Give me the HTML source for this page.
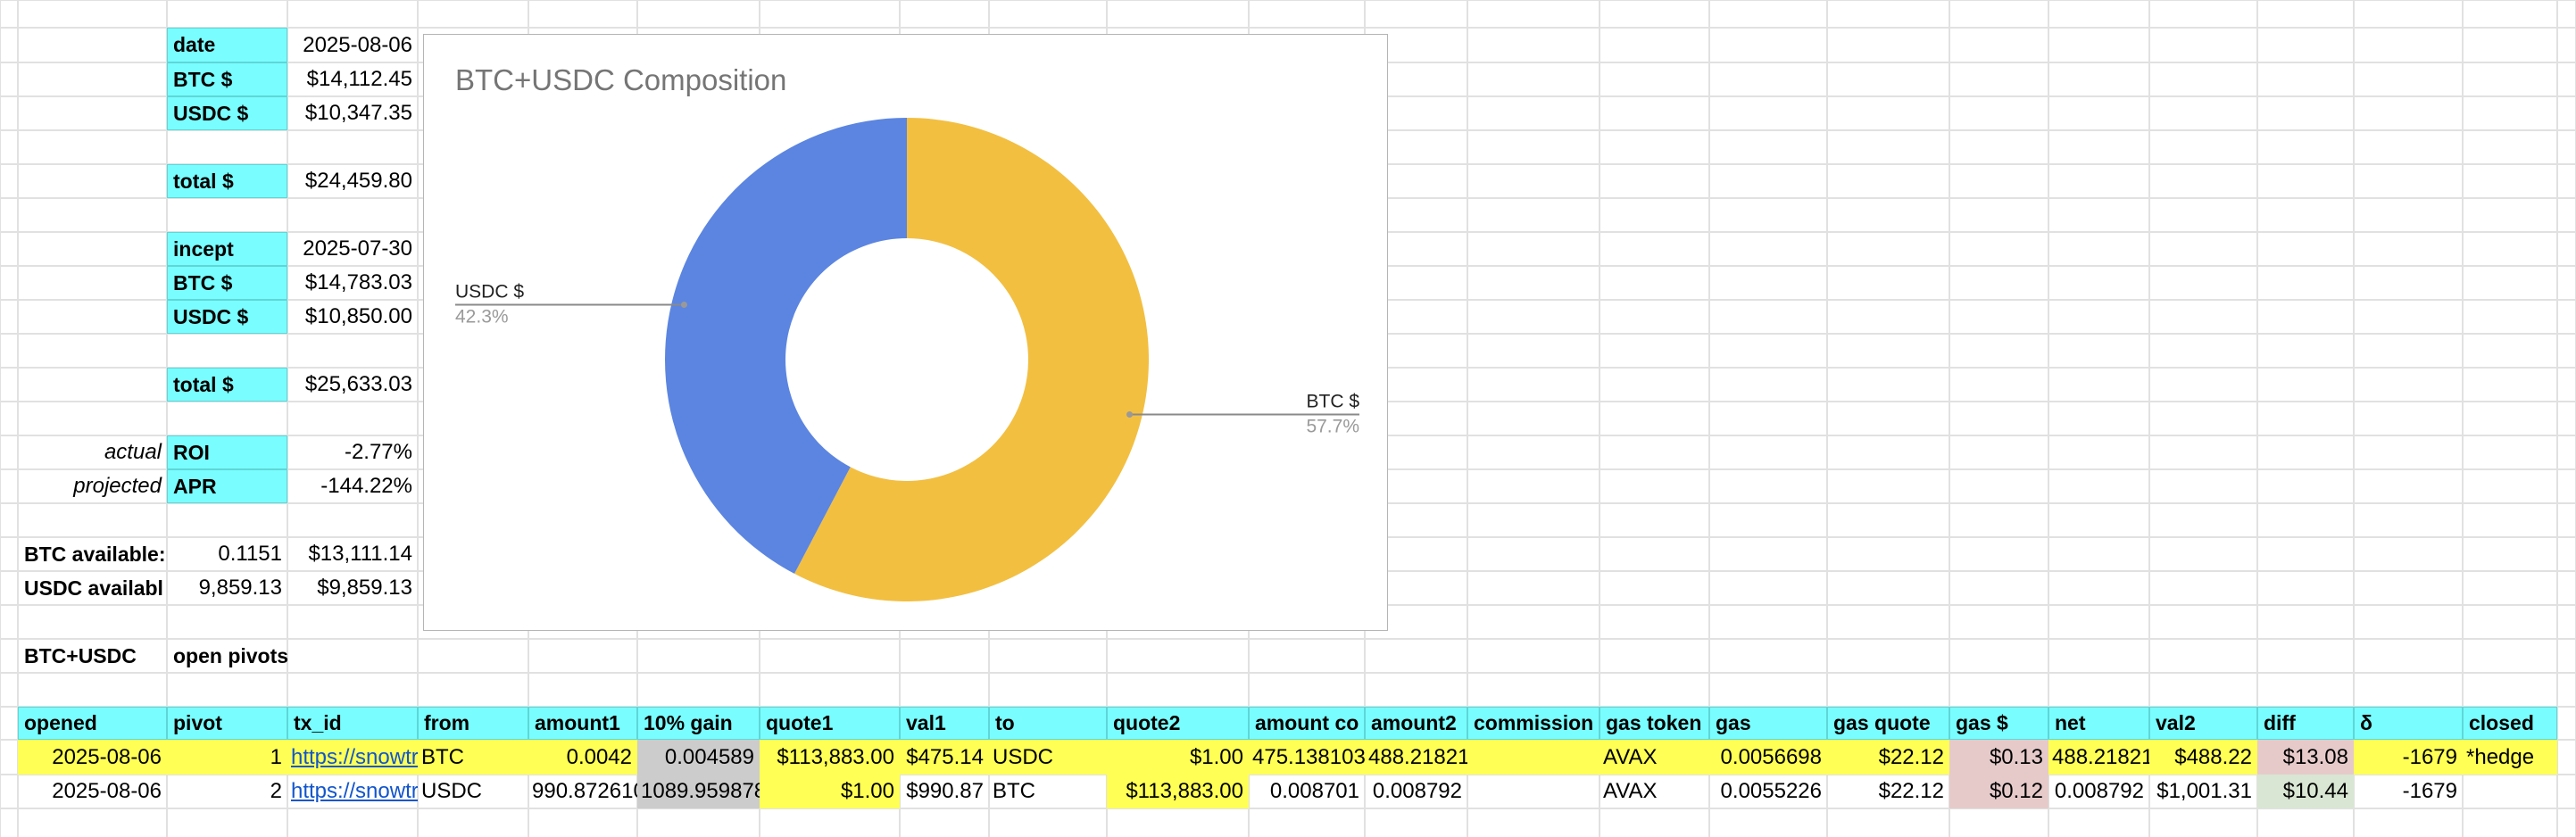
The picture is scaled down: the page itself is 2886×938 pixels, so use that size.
<!DOCTYPE html>
<html><head><meta charset="utf-8">
<style>
html,body{margin:0;padding:0;background:#fff;}
#root{position:relative;width:2886px;height:938px;overflow:hidden;background:#fff;font-family:"Liberation Sans",Arial,sans-serif;}
.gl{position:absolute;background:#e1e1e1;}
.c{position:absolute;box-sizing:border-box;overflow:hidden;white-space:nowrap;font-size:24px;color:#000;padding:0 6px 0 7px;display:flex;align-items:center;}
.r{justify-content:flex-end;}
.b{font-weight:bold;font-size:23px;}
.cy{background:#79fdfe;outline:1.5px solid #5fd6d8;outline-offset:-1px;}
.ye{background:#ffff55;}
.gr{background:#cccccc;}
.pk{background:#e6caca;}
.gn{background:#d9e6d3;}
.lnk{color:#1155cc;text-decoration:underline;}
#chart{position:absolute;left:474px;top:38px;width:1081px;height:669px;background:#fff;border:1.5px solid #b5b5b5;box-sizing:border-box;}
</style></head>
<body>
<div id="root">
<div id="chart">
<svg id="donut" width="1081" height="669"></svg>
</div>
</div>
<script>
const categories = ["BTC $", "USDC $"];
const seriesValues = [14112.45, 10347.35];
const sliceColors = ["#f2bf41", "#5b85e0"];

const rowY=[0,31,70,108,146,184,222,260,298,336,374,412,450,488,526,564,602,640,678,716,754,792,829,868,906,944];
const colX=[0,20,187,322,468,592,714,851,1008,1108,1240,1399,1529,1644,1792,1915,2047,2184,2295,2408,2529,2637,2759,2865,2886];
const root=document.getElementById('root');
const chartEl=document.getElementById('chart');

for(const y of rowY){
  const d=document.createElement('div');d.className='gl';
  d.style.cssText=`left:0;top:${y-1}px;width:2886px;height:2px`;
  
  
  root.insertBefore(d,chartEl);
}
for(const x of colX){
  const d=document.createElement('div');d.className='gl';
  d.style.cssText=`left:${x-1}px;top:0;width:2px;height:938px`;
  
  
  root.insertBefore(d,chartEl);
}
function cell(c1,c2,r,text,cls,name){
  const d=document.createElement('div');
  d.className='c '+(cls||'');
  const x1=colX[c1],x2=colX[c2];
  d.style.left=x1+'px';d.style.width=(x2-x1)+'px';
  d.style.top=rowY[r]+'px';d.style.height=(rowY[r+1]-rowY[r])+'px';
  d.innerHTML=text;
  
  
  root.insertBefore(d,chartEl);
  return d;
}
const summaryRows=[
 [1,'date','2025-08-06'],[2,'BTC $','$14,112.45'],[3,'USDC $','$10,347.35'],
 [5,'total $','$24,459.80'],
 [7,'incept','2025-07-30'],[8,'BTC $','$14,783.03'],[9,'USDC $','$10,850.00'],
 [11,'total $','$25,633.03'],
 [13,'ROI','-2.77%'],[14,'APR','-144.22%']];
for(const t of summaryRows){
  cell(2,3,t[0],t[1],'cy b','summary-label');
  cell(3,4,t[0],t[2],'r','summary-value');
}
cell(1,2,13,'<i>actual</i>','r','actual-label');
cell(1,2,14,'<i>projected</i>','r','projected-label');
cell(1,2,16,'BTC available:','b','btc-available-label');
cell(2,3,16,'0.1151','r','btc-available-amount');
cell(3,4,16,'$13,111.14','r','btc-available-value');
cell(1,2,17,'USDC availabl','b','usdc-available-label');
cell(2,3,17,'9,859.13','r','usdc-available-amount');
cell(3,4,17,'$9,859.13','r','usdc-available-value');
cell(1,2,19,'BTC+USDC','b','section-title');
cell(2,4,19,'open pivots','b','section-subtitle');

const headers=['opened','pivot','tx_id','from','amount1','10% gain','quote1','val1','to','quote2','amount co','amount2','commission','gas token','gas','gas quote','gas $','net','val2','diff','δ','closed'];
headers.forEach((h,i)=>cell(i+1,i+2,21,h,'cy b','header-'+i));
const row1=[['2025-08-06','r'],['1','r'],['<span class="lnk">https://snowtrace.io/tx</span>',''],['BTC',''],['0.0042','r'],['0.004589','r gr'],['$113,883.00','r'],['$475.14','r'],['USDC',''],['$1.00','r'],['475.1381039',''],['488.2182147',''],['',''],['AVAX',''],['0.0056698','r'],['$22.12','r'],['$0.13','r pk'],['488.2182147',''],['$488.22','r'],['$13.08','r pk'],['-1679','r'],['*hedge','']];
const row2=[['2025-08-06','r'],['2','r'],['<span class="lnk">https://snowtrace.io/tx</span>',''],['USDC',''],['990.8726102',''],['1089.9598781','gr'],['$1.00','r ye'],['$990.87','r'],['BTC',''],['$113,883.00','r ye'],['0.008701','r'],['0.008792','r'],['',''],['AVAX',''],['0.0055226','r'],['$22.12','r'],['$0.12','r pk'],['0.008792','r'],['$1,001.31','r'],['$10.44','r gn'],['-1679','r'],['','']];
row1.forEach((v,i)=>{let cls=v[1];if(!/gr|pk|gn/.test(cls))cls+=' ye';const d=cell(i+1,i+2,22,v[0],cls,'pivot-1-cell');if(v[1].indexOf('r')!==0)d.style.paddingLeft='4px';});
row2.forEach((v,i)=>{const d=cell(i+1,i+2,23,v[0],v[1],'pivot-2-cell');if(v[1].indexOf('r')!==0)d.style.paddingLeft='4px';});

const svg=document.getElementById('donut');
const NS='http://www.w3.org/2000/svg';
const cx=541,cy=364,R=271,Ri=136;
const total=seriesValues.reduce((a,b)=>a+b,0);
function pt(frac,r){const a=frac*2*Math.PI;return [cx+r*Math.sin(a),cy-r*Math.cos(a)];}
const title=document.createElementNS(NS,'text');
title.setAttribute('x',35);title.setAttribute('y',62);
title.setAttribute('font-size','33');title.setAttribute('fill','#757575');
title.setAttribute('font-family','Liberation Sans, Arial, sans-serif');
title.textContent='BTC+USDC Composition';


svg.appendChild(title);
let acc=0;
seriesValues.forEach((v,i)=>{
  const f0=acc/total,f1=(acc+v)/total;acc+=v;
  const [x0,y0]=pt(f0,R),[x1,y1]=pt(f1,R),[xi1,yi1]=pt(f1,Ri),[xi0,yi0]=pt(f0,Ri);
  const large=(f1-f0)>0.5?1:0;
  const p=document.createElementNS(NS,'path');
  p.setAttribute('d',`M${x0},${y0} A${R},${R} 0 ${large} 1 ${x1},${y1} L${xi1},${yi1} A${Ri},${Ri} 0 ${large} 0 ${xi0},${yi0} Z`);
  p.setAttribute('fill',sliceColors[i]);
  
  
  svg.appendChild(p);
  const mid=(f0+f1)/2;
  const [dx,dy]=pt(mid,257);
  const right=dx>cx;
  const ex=right?1048:35;
  const ln=document.createElementNS(NS,'line');
  ln.setAttribute('x1',dx);ln.setAttribute('y1',dy);ln.setAttribute('x2',ex);ln.setAttribute('y2',dy);
  ln.setAttribute('stroke','#8a8a8a');ln.setAttribute('stroke-width','2');
  
  
  svg.appendChild(ln);
  const dot=document.createElementNS(NS,'circle');
  dot.setAttribute('cx',dx);dot.setAttribute('cy',dy);dot.setAttribute('r',3.5);dot.setAttribute('fill','#999');
  
  
  svg.appendChild(dot);
  const t1=document.createElementNS(NS,'text');
  t1.setAttribute('x',ex);t1.setAttribute('y',dy-8);
  t1.setAttribute('font-size','21');t1.setAttribute('fill','#222');
  t1.setAttribute('text-anchor',right?'end':'start');
  t1.setAttribute('font-family','Liberation Sans, Arial, sans-serif');
  t1.textContent=categories[i];
  
  
  svg.appendChild(t1);
  const t2=document.createElementNS(NS,'text');
  t2.setAttribute('x',ex);t2.setAttribute('y',dy+20);
  t2.setAttribute('font-size','21');t2.setAttribute('fill','#9a9a9a');
  t2.setAttribute('text-anchor',right?'end':'start');
  t2.setAttribute('font-family','Liberation Sans, Arial, sans-serif');
  t2.textContent=(v/total*100).toFixed(1)+'%';
  
  
  svg.appendChild(t2);
});
</script>
</body></html>
